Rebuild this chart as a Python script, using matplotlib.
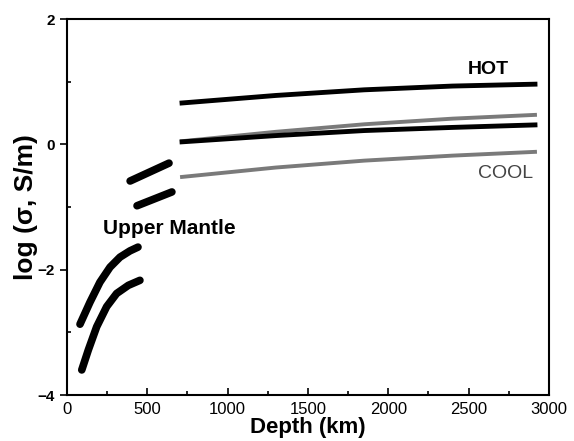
import numpy as np
import matplotlib
matplotlib.use("Agg")
import matplotlib.pyplot as plt
from matplotlib.ticker import MultipleLocator

plt.rcParams['font.family'] = ['Liberation Sans', 'DejaVu Sans']

# upper mantle curves (depth km, log sigma)
um_top_depth = [81, 143, 205, 268, 330, 392, 442]
um_top_logs = [-2.87, -2.52, -2.20, -1.96, -1.80, -1.70, -1.64]
um_bot_depth = [92, 133, 185, 247, 309, 382, 454]
um_bot_logs = [-3.60, -3.28, -2.91, -2.59, -2.38, -2.25, -2.17]

# transition zone segments
tz_top_depth = [393, 635]
tz_top_logs = [-0.585, -0.30]
tz_bot_depth = [436, 653]
tz_bot_logs = [-0.98, -0.76]

# lower mantle
lm_depth = [716, 1300, 1850, 2400, 2913]
lm_hot = [0.66, 0.78, 0.87, 0.93, 0.96]
lm_mid = [0.04, 0.14, 0.22, 0.27, 0.31]
lm_grey_hi = [0.05, 0.20, 0.32, 0.41, 0.47]
lm_grey_lo = [-0.52, -0.37, -0.26, -0.18, -0.12]

fig = plt.figure(figsize=(5.74, 4.41), dpi=100)
ax = fig.add_axes([0.1167, 0.1043, 0.8397, 0.8526])

thick = dict(color='black', lw=5.5, solid_capstyle='round', solid_joinstyle='round')
ax.plot(um_top_depth, um_top_logs, **thick)
ax.plot(um_bot_depth, um_bot_logs, **thick)
ax.plot(tz_top_depth, tz_top_logs, **thick)
ax.plot(tz_bot_depth, tz_bot_logs, **thick)

ax.plot(lm_depth, lm_grey_hi, color='#7a7a7a', lw=2.8)
ax.plot(lm_depth, lm_grey_lo, color='#7a7a7a', lw=2.8)
ax.plot(lm_depth, lm_hot, color='black', lw=3.5)
ax.plot(lm_depth, lm_mid, color='black', lw=3.5)

ax.text(2620, 1.20, 'HOT', fontsize=14, fontweight='bold', ha='center', va='center')
ax.text(2730, -0.47, 'COOL', fontsize=14, color='#444444', ha='center', va='center')
ax.text(640, -1.35, 'Upper Mantle', fontsize=15, fontweight='bold', ha='center', va='center')

ax.set_xlim(0, 3000)
ax.set_ylim(-4, 2)
ax.xaxis.set_major_locator(MultipleLocator(500))
ax.xaxis.set_minor_locator(MultipleLocator(250))
ax.yaxis.set_major_locator(MultipleLocator(2))
ax.yaxis.set_minor_locator(MultipleLocator(1))
ax.tick_params(axis='x', which='both', direction='in', labelsize=12, pad=5, width=1.2)
ax.tick_params(axis='y', which='major', direction='out', labelsize=11, width=1.2, length=5)
ax.tick_params(axis='y', which='minor', direction='in', width=1.2, length=3)
ax.tick_params(axis='x', which='major', length=5)
ax.tick_params(axis='x', which='minor', length=3)
for lab in ax.get_yticklabels():
    lab.set_fontweight('bold')
for s in ax.spines.values():
    s.set_linewidth(1.5)

ax.set_xlabel('Depth (km)', fontsize=16, fontweight='bold', labelpad=0)
ax.set_ylabel('log (σ, S/m)', fontsize=19, fontweight='bold', labelpad=0)

fig.savefig('out.png', dpi=100)
